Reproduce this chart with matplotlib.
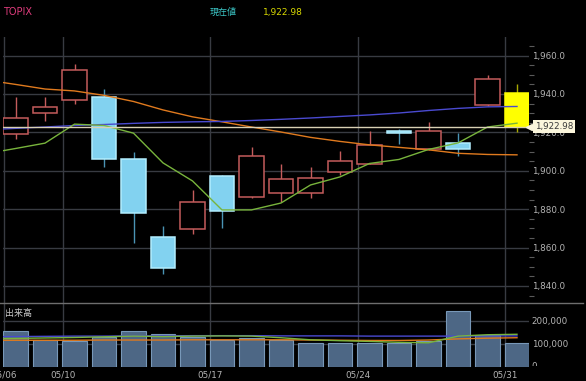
import matplotlib

matplotlib.use("Agg")
import matplotlib.pyplot as plt
import matplotlib.transforms as mtransforms
import numpy as np
from matplotlib.ticker import FixedLocator, FuncFormatter, MultipleLocator

# daily candles, TOPIX May
dates = ["05/06", "05/09", "05/10", "05/11", "05/12", "05/13", "05/16", "05/17", "05/18",
         "05/19", "05/20", "05/23", "05/24", "05/25", "05/26", "05/27", "05/30", "05/31"]
opens = [1919.0, 1930.1, 1936.9, 1938.6, 1906.0, 1865.7, 1869.5, 1897.3, 1886.2,
         1888.3, 1888.3, 1899.6, 1903.6, 1920.6, 1911.2, 1914.7, 1934.3, 1940.4]
highs = [1938.6, 1938.3, 1955.7, 1942.6, 1909.8, 1871.3, 1890.0, 1897.8, 1912.3,
         1903.4, 1901.8, 1910.3, 1920.8, 1921.6, 1925.6, 1919.6, 1949.9, 1945.3]
lows = [1916.4, 1926.0, 1934.8, 1902.2, 1862.2, 1846.1, 1866.9, 1870.2, 1886.0,
        1883.9, 1886.0, 1897.8, 1903.4, 1914.0, 1911.0, 1907.9, 1934.0, 1920.1]
closes = [1927.7, 1933.3, 1952.5, 1906.2, 1878.2, 1849.2, 1883.6, 1879.2, 1907.9,
          1895.6, 1896.1, 1905.1, 1913.5, 1919.6, 1920.8, 1911.2, 1947.7, 1922.98]
volumes = [154000, 115000, 112000, 130000, 154000, 143000, 127000, 117000, 123000,
           118000, 101000, 105000, 101000, 103000, 112000, 243000, 140000, 101000]

# moving averages, first value is the day before 05/06 (line runs in from the left edge)
ma_short = [1908.9, 1911.6, 1914.4, 1924.3, 1923.6, 1919.6, 1904.1, 1894.7, 1879.6, 1879.6,
            1883.2, 1892.6, 1896.8, 1903.8, 1905.9, 1911.1, 1914.5, 1922.8, 1924.8]
ma_mid = [1947.3, 1945.0, 1942.6, 1941.6, 1939.3, 1936.1, 1931.7, 1928.1, 1925.5, 1922.8,
          1920.2, 1917.4, 1915.3, 1913.5, 1912.2, 1910.9, 1909.1, 1908.5, 1908.3]
ma_long = [1921.3, 1922.1, 1922.8, 1923.6, 1924.1, 1924.7, 1925.2, 1925.5, 1925.7, 1926.2,
           1926.8, 1927.5, 1928.3, 1929.1, 1930.1, 1931.4, 1932.5, 1933.3, 1933.5]
vol_ma_short = [122000, 123000, 125000, 127000, 130000, 133000, 131000, 133000, 134000, 133000,
                126000, 117000, 113000, 110000, 106000, 104000, 133000, 139000, 141000]
vol_ma_mid = [115000, 115000, 115000, 115000, 116000, 116000, 116000, 117000, 117000, 117000,
              117000, 116000, 115000, 114000, 114000, 116000, 121000, 124000, 126000]
vol_ma_long = [130000, 131000, 132000, 133000, 133000, 134000, 134000, 135000, 135000, 135000,
               134000, 134000, 134000, 133000, 133000, 133000, 133000, 134000, 134000]

grid_dates = ["05/06", "05/10", "05/17", "05/24", "05/31"]
price_ticks = [1840, 1860, 1880, 1900, 1920, 1940, 1960]
volume_ticks = [100000, 200000]
current_price = 1922.98

W, H = 586, 381
BG = "#000000"
GRID = "#383b42"
TXT = "#b4b4b4"
BODY_W = 0.82
GRID_OFF = 0.40  # day separators sit at the left edge of each candle


def draw_candles(ax, x):
    n = len(x)
    for i in range(n):
        o, h, l, c = opens[i], highs[i], lows[i], closes[i]
        if i == n - 1:
            face, edge, wick = "#ffff00", "#ffff00", "#a8a800"
        elif c >= o:
            face, edge, wick = BG, "#c45c5c", "#c45c5c"
        else:
            face, edge, wick = "#82d2f0", "#b2eeff", "#4a94b4"
        ax.vlines(x[i], l, h, colors=wick, linewidth=1.0, zorder=2)
        ax.bar(x[i], abs(c - o), bottom=min(o, c), width=BODY_W, color=face,
               edgecolor=edge, linewidth=1.1, zorder=2.5)


def main() -> None:
    fig = plt.figure(figsize=(W / 100, H / 100), dpi=100, facecolor=BG)
    left, right = 3.0, 528.5
    ax = fig.add_axes([left / W, 1 - 303 / H, (right - left) / W, (303 - 37) / H])
    axv = fig.add_axes([left / W, 1 - 366.7 / H, (right - left) / W, (366.7 - 303) / H], sharex=ax)

    x = np.arange(len(dates))
    ma_x = np.arange(-1, len(dates))
    grid_x = np.array([dates.index(d) for d in grid_dates]) - GRID_OFF

    for a in (ax, axv):
        a.set_facecolor(BG)
        for s in a.spines.values():
            s.set_visible(False)
        a.set_axisbelow(True)
        a.xaxis.set_major_locator(FixedLocator(grid_x))
        a.grid(True, color=GRID, linewidth=1.0)
        a.yaxis.tick_right()
        a.tick_params(axis="y", which="major", length=0, pad=2.2, labelsize=6.3, labelcolor=TXT)
        a.tick_params(axis="x", length=0)

    # price panel
    ax.set_xlim((left - 15.5) / 29.5, (right - 15.5) / 29.5)
    ax.set_ylim(1831.1, 1969.7)
    ax.set_yticks(price_ticks)
    ax.yaxis.set_major_formatter(FuncFormatter(lambda v, _: f"{v:,.1f}"))
    ax.yaxis.set_minor_locator(MultipleLocator(5))
    ax.tick_params(axis="y", which="minor", length=3.5, width=0.8, color="#5a5a5a", direction="out")
    ax.tick_params(axis="x", labelbottom=False)

    draw_candles(ax, x)
    ax.plot(ma_x, ma_mid, color="#e07a1e", linewidth=1.0, zorder=3)
    ax.plot(ma_x, ma_long, color="#4a4ad0", linewidth=1.0, zorder=3)
    ax.plot(ma_x, ma_short, color="#78b43c", linewidth=1.0, zorder=3)
    ax.axhline(current_price, color="#d8d0b4", linewidth=1.0, zorder=3.5)

    # current price callout at the right edge
    trans = mtransforms.blended_transform_factory(ax.transAxes, ax.transData)
    ax.plot([1.0], [current_price], marker="<", markersize=5, color="#fbf6dc",
            transform=trans, clip_on=False, zorder=6)
    ax.annotate(f"{current_price:,.2f}", xy=(1.0, current_price), xycoords=trans,
                xytext=(4.5, 0), textcoords="offset points", va="center", ha="left",
                fontsize=6.3, color="#3a3a3a", zorder=6,
                bbox=dict(boxstyle="square,pad=0.22", fc="#fbf6dc", ec="none"),
                annotation_clip=False)

    # volume panel
    axv.set_ylim(0, 277000)
    axv.set_yticks(volume_ticks)
    axv.yaxis.set_major_formatter(FuncFormatter(lambda v, _: f"{int(v):,}"))
    axv.bar(x, volumes, width=BODY_W, color="#4d6785", edgecolor="#7898b8",
            linewidth=0.8, zorder=2)
    axv.plot(ma_x, vol_ma_mid, color="#e07a1e", linewidth=1.0, zorder=3)
    axv.plot(ma_x, vol_ma_long, color="#4a4ad0", linewidth=1.0, zorder=3)
    axv.plot(ma_x, vol_ma_short, color="#78b43c", linewidth=1.0, zorder=3)
    axv.set_xticklabels(grid_dates)
    axv.tick_params(axis="x", pad=2.5, labelsize=6.3, labelcolor=TXT)

    zero = axv.text(1.0, 0, "0", transform=mtransforms.blended_transform_factory(axv.transAxes, axv.transData),
                    ha="left", va="center", fontsize=6.3, color=TXT)
    zero.set_position((1.0 + 2.2 / (right - left) * 1.4, 0))
    zero.set_clip_box(mtransforms.TransformedBbox(
        mtransforms.Bbox.from_extents(0, 14.6 / H, 1, 1), fig.transFigure))
    zero.set_clip_on(True)

    axv.text(0.003, 0.84, "出来高", transform=axv.transAxes, fontsize=6.5, color="#c8c8c8",
             va="center", ha="left", family=["Noto Sans CJK JP", "DejaVu Sans"])

    # panel separator
    fig.add_artist(plt.Line2D([0, 583 / W], [1 - 303 / H, 1 - 303 / H], transform=fig.transFigure,
                              color="#6e6e6e", linewidth=1.0))

    # header
    fig.text(3 / W, 1 - 12 / H, "TOPIX", color="#de3c7c", fontsize=7, va="center", ha="left")
    fig.text(210 / W, 1 - 12 / H, "現在値", color="#3cc8c8", fontsize=6.5, va="center", ha="left",
             family=["Noto Sans CJK JP", "DejaVu Sans"])
    fig.text(263 / W, 1 - 12 / H, f"{current_price:,.2f}", color="#d8d800", fontsize=6.5,
             va="center", ha="left")

    fig.savefig("out.png", dpi=100, facecolor=BG)
    plt.close(fig)


if __name__ == "__main__":
    main()
